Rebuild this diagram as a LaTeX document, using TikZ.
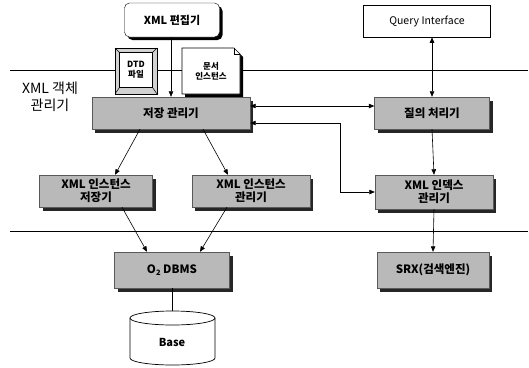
\documentclass[tikz,border=0pt]{standalone}
\usepackage{fontspec}
\setmainfont{Noto Sans CJK KR}
\usetikzlibrary{shadows,arrows.meta,calc}
\begin{document}
\begin{tikzpicture}[x=1pt,y=-1pt,
  tip/.tip={Triangle[length=5.5pt,width=4.5pt]},
  arr/.style={-tip, line width=0.6pt},
  arrb/.style={tip-tip, line width=0.6pt},
  plain/.style={line width=0.6pt},
  gbox/.style={draw=gray!70!black, fill=gray!55, font=\bfseries\fontsize{11.5}{13}\selectfont,
    align=center, inner sep=0pt,
    drop shadow={shadow xshift=3pt, shadow yshift=-4pt, fill=black!85, opacity=1}},
  wbox/.style={draw, fill=white, align=center, inner sep=0pt},
  sepline/.style={line width=0.9pt}]
\useasboundingbox (0,0) rectangle (529,367);

% separator lines
\draw[sepline] (10,70) -- (528,70);
\draw[sepline] (10,231) -- (528,231);

% top boxes
\node[wbox, rounded corners=5pt, minimum width=95pt, minimum height=34pt,
  font=\bfseries\fontsize{11}{13}\selectfont,
  drop shadow={shadow xshift=3pt, shadow yshift=-3pt, fill=black, opacity=1}] (edit) at (172,20) {XML 편집기};
\node[wbox, minimum width=127pt, minimum height=32pt, line width=0.6pt,
  font=\fontsize{10.5}{12.5}\selectfont] (qi) at (427,21) {Query Interface};

% DTD file (bevelled button)
\draw[fill=gray!35, line width=0.8pt] (115,48) rectangle (157,94);
\node[wbox, minimum width=33pt, minimum height=35pt, line width=0.5pt,
  font=\bfseries\fontsize{8.5}{10}\selectfont] (dtd) at (136,70) {DTD\\파일};
\draw[line width=0.5pt] (115,48) -- (dtd.north west) (157,48) -- (dtd.north east)
  (115,94) -- (dtd.south west) (157,94) -- (dtd.south east);

% document instance (folded corner)
\fill[black] (185,51) -- (237,51) -- (243,57) -- (243,97) -- (185,97) -- cycle;
\draw[fill=white, line width=0.6pt] (182,48) -- (234,48) -- (240,54) -- (240,94) -- (182,94) -- cycle;
\draw[line width=0.5pt] (234,48) -- (234,54) -- (240,54);
\node[align=center, font=\bfseries\fontsize{8.5}{10}\selectfont] (doc) at (211,71) {문서\\인스턴스};

% layer label
\node[align=center, font=\fontsize{14}{17}\selectfont] (layer) at (50,97) {XML 객체\\관리기};

% gray component boxes
\node[gbox, minimum width=158pt, minimum height=32pt] (store) at (171,113) {저장 관리기};
\node[gbox, minimum width=115pt, minimum height=32pt] (query) at (432,113) {질의 처리기};
\node[gbox, minimum width=113pt, minimum height=32pt] (inst1) at (96,191) {XML 인스턴스\\저장기};
\node[gbox, minimum width=118pt, minimum height=32pt] (inst2) at (251,191) {XML 인스턴스\\관리기};
\node[gbox, minimum width=118pt, minimum height=34pt] (idx) at (434,192) {XML 인덱스\\관리기};
\node[gbox, minimum width=115pt, minimum height=36pt] (o2) at (172,270) {O\raisebox{-0.35ex}{\fontsize{7.5}{8}\selectfont 2} DBMS};
\node[gbox, minimum width=112pt, minimum height=36pt] (srx) at (433,270) {SRX(검색엔진)};

% Base cylinder
\coordinate (basetop) at (172,311);
\draw[fill=white, line width=0.7pt] (130,318) -- (130,358)
  arc[start angle=180, end angle=360, x radius=42.5pt, y radius=7pt] -- (215,318);
\draw[fill=white, line width=0.7pt] (172.5,318) ellipse [x radius=42.5pt, y radius=7pt];
\node[font=\bfseries\fontsize{11}{13}\selectfont] (base) at (172,342) {Base};

% connectors
\draw[arr] (store.north |- edit.south) -- (store.north);
\draw[arrb] (query.north |- qi.south) -- (query.north);
\draw[arrb] ($(store.east)+(0,-7)$) -- ($(query.west)+(0,-7)$);
\draw[arrb] ($(store.east)+(0,10)$) -| (340,192) -- (idx.west);
\draw[arr] (query.south) -- (idx.north);
\draw[arr] ($(store.south)+(-31,0)$) -- ($(inst1.north)+(19,0)$);
\draw[arr] ($(store.south)+(32,0)$) -- ($(inst2.north)+(-23,0)$);
\draw[arr] ($(inst1.south)+(26,0)$) -- ($(o2.north)+(-25,0)$);
\draw[arr] ($(inst2.south)+(-24,0)$) -- ($(o2.north)+(28,0)$);
\draw[arr] (idx.south) -- (srx.north);
\draw[plain] (o2.south) -- (basetop);
\end{tikzpicture}
\end{document}
